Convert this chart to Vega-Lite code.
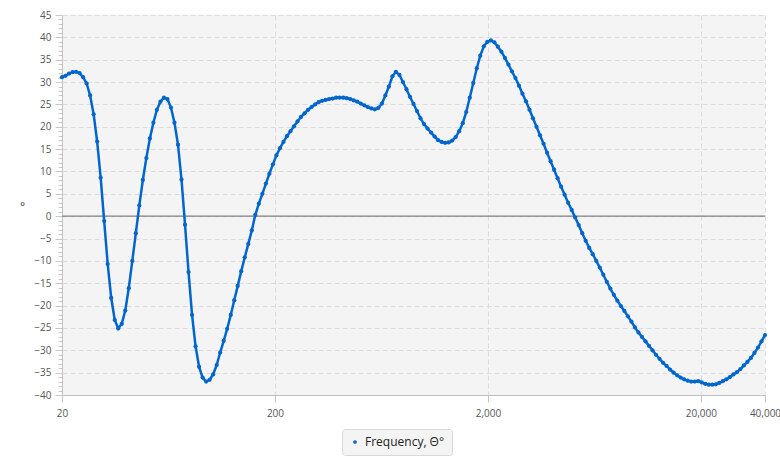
{
  "$schema": "https://vega.github.io/schema/vega-lite/v6.json",
  "width": 703,
  "height": 380,
  "autosize": "none",
  "padding": {"left": 62, "top": 15, "right": 15, "bottom": 68},
  "background": "white",
  "config": {"view": {"fill": "#f4f4f4", "stroke": null}, "font": "Open Sans"},
  "encoding": {
    "y": {
      "field": "v", "type": "quantitative",
      "scale": {"domain": [-40, 45], "nice": false, "zero": false},
      "axis": {
        "title": "°", "titleAngle": 0, "titleX": -40, "titleY": 198, "titleFontSize": 12,
        "titleColor": "#333333", "titleFontWeight": "normal",
        "values": [-40,-39,-38,-37,-36,-35,-34,-33,-32,-31,-30,-29,-28,-27,-26,-25,-24,-23,-22,-21,-20,-19,-18,-17,-16,-15,-14,-13,-12,-11,-10,-9,-8,-7,-6,-5,-4,-3,-2,-1,0,1,2,3,4,5,6,7,8,9,10,11,12,13,14,15,16,17,18,19,20,21,22,23,24,25,26,27,28,29,30,31,32,33,34,35,36,37,38,39,40,41,42,43,44,45],
        "labelExpr": "datum.value % 5 === 0 ? datum.label : ''",
        "labelOverlap": false, "labelFlush": false,
        "labelFontSize": 10, "labelColor": "#555555", "labelPadding": 4,
        "tickColor": "#c8c8c8",
        "tickSize": {"condition": {"test": "datum.value % 5 === 0", "value": 7}, "value": 4},
        "domainColor": "#c0c0c0",
        "gridColor": "#dcdcdc", "gridDash": [5, 3],
        "gridOpacity": {"condition": {"test": "datum.value % 5 === 0", "value": 1}, "value": 0}
      }
    }
  },
  "layer": [
    {
      "data": {"values": [{"v": 0}]},
      "mark": {"type": "rule", "color": "#808080", "strokeWidth": 1.2}
    },
    {
      "data": {"values": [
        {"f":20,"v":31.1},{"f":20.77,"v":31.4},{"f":21.58,"v":31.9},{"f":22.42,"v":32.2},{"f":23.28,"v":32.3},{"f":24.19,"v":32.0},{"f":25.12,"v":31.1},{"f":26.1,"v":29.7},{"f":27.11,"v":27.0},{"f":28.16,"v":22.8},
        {"f":29.25,"v":16.7},{"f":30.38,"v":8.6},{"f":31.56,"v":-1.1},{"f":32.78,"v":-10.7},{"f":34.05,"v":-18.3},{"f":35.37,"v":-23.2},{"f":36.74,"v":-25.1},{"f":38.16,"v":-24.1},{"f":39.64,"v":-21.1},{"f":41.17,"v":-16.1},
        {"f":42.77,"v":-10.0},{"f":44.43,"v":-3.8},{"f":46.15,"v":2.4},{"f":47.93,"v":8.1},{"f":49.79,"v":13.0},{"f":51.72,"v":17.4},{"f":53.72,"v":20.9},{"f":55.8,"v":23.8},{"f":57.97,"v":25.6},{"f":60.21,"v":26.5},
        {"f":62.54,"v":26.2},{"f":64.97,"v":24.3},{"f":67.48,"v":20.9},{"f":70.1,"v":16.0},{"f":72.81,"v":8.2},{"f":75.63,"v":-1.9},{"f":78.56,"v":-12.5},{"f":81.6,"v":-22.1},{"f":84.77,"v":-29.1},{"f":88.05,"v":-33.7},
        {"f":91.46,"v":-36.1},{"f":95.0,"v":-37.0},{"f":98.68,"v":-36.6},{"f":102.5,"v":-35.4},{"f":106.5,"v":-33.3},{"f":110.6,"v":-30.5},{"f":114.9,"v":-27.9},{"f":119.3,"v":-25.2},{"f":124.0,"v":-22.1},{"f":128.8,"v":-18.8},
        {"f":133.7,"v":-15.6},{"f":138.9,"v":-12.3},{"f":144.3,"v":-9.2},{"f":149.9,"v":-6.2},{"f":155.7,"v":-3.2},{"f":161.7,"v":0.3},{"f":168.0,"v":2.8},{"f":174.5,"v":5.0},{"f":181.3,"v":7.3},{"f":188.3,"v":9.5},
        {"f":195.6,"v":11.6},{"f":203.2,"v":13.6},{"f":211.0,"v":15.2},{"f":219.2,"v":16.6},{"f":227.7,"v":17.9},{"f":236.5,"v":19.0},{"f":245.7,"v":20.1},{"f":255.2,"v":21.2},{"f":265.1,"v":22.2},{"f":275.3,"v":23.0},
        {"f":286.0,"v":23.8},{"f":297.1,"v":24.4},{"f":308.6,"v":25.0},{"f":320.6,"v":25.5},{"f":333.0,"v":25.8},{"f":345.9,"v":26.0},{"f":359.3,"v":26.2},{"f":373.2,"v":26.3},{"f":387.6,"v":26.5},{"f":402.7,"v":26.5},
        {"f":418.3,"v":26.5},{"f":434.5,"v":26.4},{"f":451.3,"v":26.2},{"f":468.8,"v":25.9},{"f":486.9,"v":25.6},{"f":505.8,"v":25.2},{"f":525.4,"v":24.8},{"f":545.7,"v":24.4},{"f":566.9,"v":24.1},{"f":588.8,"v":23.9},
        {"f":611.6,"v":24.2},{"f":635.3,"v":25.2},{"f":659.9,"v":27.0},{"f":685.5,"v":29.0},{"f":712.1,"v":31.3},{"f":739.6,"v":32.3},{"f":768.3,"v":31.6},{"f":798.0,"v":30.0},{"f":829.0,"v":28.4},{"f":861.1,"v":26.7},
        {"f":894.4,"v":25.1},{"f":929.1,"v":23.5},{"f":965.1,"v":21.9},{"f":1002,"v":20.6},{"f":1041,"v":19.6},{"f":1082,"v":18.7},{"f":1124,"v":17.8},{"f":1167,"v":17.0},{"f":1212,"v":16.6},{"f":1259,"v":16.4},
        {"f":1308,"v":16.5},{"f":1359,"v":16.9},{"f":1411,"v":17.7},{"f":1466,"v":19.0},{"f":1523,"v":20.8},{"f":1582,"v":23.3},{"f":1643,"v":26.5},{"f":1707,"v":29.8},{"f":1773,"v":33.1},{"f":1841,"v":35.9},
        {"f":1913,"v":38.0},{"f":1987,"v":39.0},{"f":2064,"v":39.3},{"f":2144,"v":38.9},{"f":2227,"v":37.9},{"f":2313,"v":36.8},{"f":2403,"v":35.4},{"f":2496,"v":33.9},{"f":2592,"v":32.4},{"f":2693,"v":30.9},
        {"f":2797,"v":29.2},{"f":2905,"v":27.4},{"f":3018,"v":25.7},{"f":3135,"v":23.8},{"f":3256,"v":21.9},{"f":3382,"v":20.0},{"f":3513,"v":18.1},{"f":3650,"v":16.2},{"f":3791,"v":14.2},{"f":3938,"v":12.3},
        {"f":4090,"v":10.4},{"f":4249,"v":8.5},{"f":4413,"v":6.6},{"f":4584,"v":4.8},{"f":4762,"v":3.0},{"f":4946,"v":1.4},{"f":5138,"v":-0.3},{"f":5337,"v":-2.0},{"f":5544,"v":-3.8},{"f":5758,"v":-5.5},
        {"f":5981,"v":-7.1},{"f":6213,"v":-8.5},{"f":6454,"v":-10.0},{"f":6704,"v":-11.5},{"f":6963,"v":-13.1},{"f":7233,"v":-14.7},{"f":7513,"v":-16.2},{"f":7804,"v":-17.6},{"f":8107,"v":-18.9},{"f":8421,"v":-20.1},
        {"f":8747,"v":-21.2},{"f":9086,"v":-22.4},{"f":9438,"v":-23.6},{"f":9803,"v":-24.9},{"f":10183,"v":-26.0},{"f":10577,"v":-27.0},{"f":10987,"v":-28.0},{"f":11413,"v":-29.0},{"f":11855,"v":-30.0},{"f":12314,"v":-31.0},
        {"f":12791,"v":-31.9},{"f":13287,"v":-32.8},{"f":13801,"v":-33.5},{"f":14336,"v":-34.3},{"f":14891,"v":-35.0},{"f":15468,"v":-35.6},{"f":16067,"v":-36.1},{"f":16690,"v":-36.5},{"f":17336,"v":-36.8},{"f":18007,"v":-37.0},
        {"f":18705,"v":-37.0},{"f":19430,"v":-36.9},{"f":20182,"v":-37.2},{"f":20964,"v":-37.5},{"f":21776,"v":-37.7},{"f":22619,"v":-37.7},{"f":23496,"v":-37.6},{"f":24406,"v":-37.3},{"f":25351,"v":-36.9},{"f":26333,"v":-36.5},
        {"f":27353,"v":-36.0},{"f":28413,"v":-35.4},{"f":29513,"v":-34.9},{"f":30656,"v":-34.2},{"f":31844,"v":-33.4},{"f":33077,"v":-32.6},{"f":34359,"v":-31.7},{"f":35689,"v":-30.6},{"f":37072,"v":-29.4},{"f":38508,"v":-28.0},
        {"f":40000,"v":-26.6}
      ]},
      "mark": {"type": "line", "strokeWidth": 2.5, "point": {"filled": true, "size": 18}},
      "encoding": {
        "x": {
          "field": "f", "type": "quantitative",
          "scale": {"type": "log", "domain": [20, 40000], "nice": false},
          "axis": {
            "title": null, "values": [20, 200, 2000, 20000, 40000], "format": ",",
            "labelFontSize": 10, "labelColor": "#555555", "labelPadding": 6, "labelFlush": false,
            "tickColor": "#c4c4c4", "tickSize": 7, "domainColor": "#c0c0c0",
            "gridColor": "#dcdcdc", "gridDash": [5, 3]
          }
        },
        "color": {
          "datum": "Frequency, Θ°",
          "scale": {"range": ["#0066cc"]},
          "legend": {
            "title": null, "orient": "none", "legendX": 280, "legendY": 414,
            "padding": 7, "fillColor": "#f4f4f4", "strokeColor": "#d8d8d8", "cornerRadius": 3,
            "symbolType": "circle", "symbolSize": 14, "symbolFillColor": "#0066cc", "symbolStrokeWidth": 0,
            "labelFontSize": 12, "labelColor": "#222222", "labelOffset": 4
          }
        }
      }
    }
  ]
}
